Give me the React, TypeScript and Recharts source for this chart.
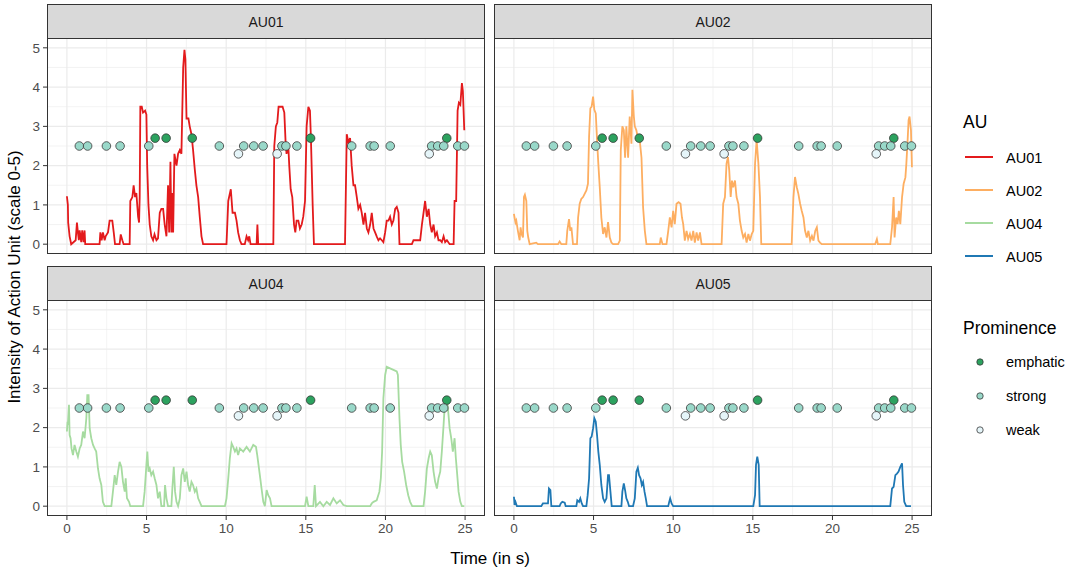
import React from "react";
import { ComposedChart, Line, Scatter, XAxis, YAxis, CartesianGrid } from "recharts";

// intensity traces, [time in s, intensity]
const au01: Array<[number, number]> = [
  [0, 1.22], [0.06, 1.0], [0.08, 0.55], [0.17, 0.2], [0.27, 0], [0.55, 0.1], [0.63, 0.55], [0.69, 0.3], [0.75, 0.1], [0.8, 0.35],
  [0.9, 0.05], [0.96, 0.35], [1.05, 0.05], [1.11, 0.35], [1.15, 0], [2.05, 0], [2.1, 0.3], [2.18, 0.1], [2.26, 0.3], [2.37, 0.1],
  [2.43, 0.2], [2.58, 0.3], [2.68, 0.6], [2.85, 0.6], [2.94, 0.3], [3.02, 0], [3.31, 0], [3.38, 0.25], [3.48, 0.1], [3.56, 0],
  [3.94, 0], [3.98, 1.1], [4.11, 1.2], [4.19, 1.5], [4.28, 1.2], [4.36, 1.3], [4.47, 0.7], [4.53, 0.55], [4.57, 1.2], [4.61, 3.5],
  [4.7, 3.5], [4.78, 3.35], [4.91, 3.4], [4.99, 3.3], [5.04, 2.0], [5.12, 1.0], [5.2, 0.5], [5.3, 0.2], [5.41, 0.1], [5.5, 0.25],
  [5.62, 0.1], [5.72, 0.15], [5.83, 0.8], [5.93, 0.9], [6.04, 0.9], [6.14, 0.5], [6.25, 0.2], [6.35, 1.5], [6.42, 0.3], [6.5, 2.1],
  [6.56, 0.3], [6.62, 1.3], [6.67, 0.3], [6.75, 2.3], [6.88, 2.0], [6.98, 2.3], [7.09, 2.4], [7.19, 2.3], [7.3, 4.5], [7.38, 4.95],
  [7.44, 4.7], [7.51, 3.2], [7.63, 3.2], [7.71, 3.0], [7.82, 2.8], [7.92, 2.4], [8.03, 1.9], [8.13, 1.5], [8.24, 1.2], [8.34, 0.7],
  [8.45, 0.2], [8.55, 0], [10.02, 0], [10.13, 1.1], [10.29, 1.4], [10.4, 0.8], [10.55, 0.8], [10.65, 0.6], [10.75, 0.3], [10.86, 0.1],
  [10.96, 0], [11.17, 0], [11.28, 0.2], [11.38, 0.1], [11.45, 0.2], [11.53, 0], [11.91, 0], [11.96, 0.5], [12.01, 0], [12.96, 0],
  [13.02, 2.5], [13.12, 3.0], [13.21, 3.1], [13.29, 3.5], [13.38, 3.5], [13.54, 3.5], [13.65, 3.35], [13.73, 2.6], [13.79, 2.3], [13.9, 2.5],
  [13.96, 2.0], [14.05, 1.4], [14.15, 1.2], [14.26, 0.5], [14.34, 0.3], [14.42, 0.6], [14.53, 0.6], [14.63, 0.4], [14.74, 0.5], [14.84, 0.7],
  [14.95, 1.1], [15.05, 3.0], [15.16, 3.5], [15.26, 3.4], [15.32, 2.7], [15.43, 1.0], [15.51, 0], [17.46, 0], [17.57, 2.8], [17.67, 2.6],
  [17.78, 2.7], [17.88, 2.0], [17.99, 1.5], [18.09, 1.5], [18.2, 1.2], [18.3, 0.9], [18.41, 1.0], [18.51, 0.8], [18.62, 0.5], [18.72, 0.8],
  [18.83, 0.4], [18.93, 0.3], [19.04, 0.5], [19.14, 0.8], [19.25, 0.4], [19.35, 0.3], [19.45, 0.2], [19.56, 0.1], [19.66, 0.15], [19.77, 0.1],
  [19.87, 0.05], [19.98, 0.3], [20.08, 0.6], [20.19, 0.6], [20.29, 0.7], [20.4, 0.5], [20.5, 0.6], [20.61, 0.9], [20.71, 0.95], [20.82, 0.8],
  [20.88, 0], [21.66, 0], [21.76, 0.1], [21.97, 0.1], [22.18, 0.1], [22.29, 0.5], [22.39, 0.8], [22.49, 1.1], [22.6, 0.7], [22.71, 0.9],
  [22.81, 0.5], [22.91, 0.3], [23.02, 0.5], [23.12, 0.2], [23.23, 0.3], [23.33, 0.1], [23.44, 0.1], [23.54, 0.05], [23.65, 0.2], [23.75, 0.05],
  [23.86, 0.1], [24.03, 0], [24.28, 0], [24.34, 1.1], [24.44, 1.1], [24.53, 3.4], [24.61, 3.6], [24.7, 3.55], [24.8, 4.1], [24.86, 3.9],
  [24.95, 2.9],
];

const au02: Array<[number, number]> = [
  [0, 0.77], [0.04, 0.68], [0.1, 0.55], [0.15, 0.6], [0.25, 0.34], [0.36, 0.1], [0.42, 0.43], [0.48, 0.26], [0.57, 0.17], [0.63, 1.2],
  [0.69, 1.26], [0.78, 1.1], [0.84, 0.34], [0.9, 0.17], [0.99, 0], [1.4, 0.04], [1.51, 0], [2.77, 0], [2.87, 0.07], [2.98, 0],
  [3.29, 0], [3.35, 0.34], [3.46, 0.64], [3.54, 0.34], [3.61, 0.43], [3.71, 0], [3.96, 0], [4.03, 0.68], [4.13, 1.03], [4.23, 1.15],
  [4.34, 1.2], [4.44, 1.28], [4.55, 1.37], [4.65, 1.54], [4.72, 2.74], [4.8, 3.46], [4.88, 3.5], [4.97, 3.76], [5.05, 3.42], [5.14, 3.33],
  [5.22, 2.65], [5.3, 2.05], [5.39, 1.45], [5.49, 0.68], [5.6, 0.26], [5.7, 0.43], [5.81, 0.17], [5.91, 0.56], [6.02, 0.17], [6.12, 0.04],
  [6.23, 0], [6.54, 0], [6.65, 0.09], [6.71, 2.4], [6.81, 3.0], [6.9, 2.9], [6.98, 2.2], [7.06, 3.0], [7.17, 2.2], [7.27, 3.25],
  [7.38, 2.56], [7.44, 3.93], [7.53, 3.25], [7.59, 3.0], [7.69, 2.9], [7.8, 2.65], [7.9, 2.65], [8.01, 2.2], [8.11, 0.94], [8.22, 0.34],
  [8.32, 0], [9.16, 0], [9.22, 0.17], [9.33, 0], [9.58, 0], [9.69, 0.34], [9.79, 0.68], [9.9, 0.43], [10.0, 0.85], [10.1, 0.51],
  [10.21, 1.03], [10.34, 1.07], [10.46, 1.03], [10.55, 0.68], [10.63, 0.51], [10.73, 0.09], [10.84, 0.34], [10.94, 0.13], [11.05, 0.26], [11.15, 0.09],
  [11.26, 0.34], [11.36, 0.04], [11.47, 0.3], [11.57, 0.09], [11.68, 0.3], [11.78, 0], [13.04, 0], [13.14, 1.03], [13.25, 1.2], [13.35, 2.05],
  [13.44, 2.22], [13.52, 1.88], [13.61, 1.2], [13.69, 1.62], [13.77, 1.45], [13.88, 1.62], [13.98, 1.2], [14.09, 1.03], [14.19, 0.6], [14.3, 0.34],
  [14.4, 0.17], [14.51, 0.26], [14.61, 0.04], [14.72, 0.26], [14.82, 0.09], [14.93, 0.26], [15.03, 0.34], [15.14, 2.05], [15.24, 2.65], [15.35, 2.05],
  [15.45, 1.2], [15.53, 0], [17.44, 0], [17.55, 1.2], [17.65, 1.71], [17.76, 1.45], [17.86, 1.28], [17.97, 1.03], [18.07, 0.85], [18.18, 0.68],
  [18.28, 0.34], [18.39, 0.17], [18.49, 0.34], [18.6, 0.09], [18.71, 0.21], [18.81, 0.09], [18.92, 0.34], [19.02, 0.43], [19.12, 0.09], [19.22, 0.04],
  [19.33, 0], [22.68, 0], [22.79, 0.13], [22.85, 0], [23.63, 0], [23.74, 0.43], [23.84, 1.2], [23.9, 0.17], [24.0, 0.68], [24.09, 0.51],
  [24.17, 0.85], [24.26, 0.51], [24.37, 1.2], [24.47, 1.54], [24.58, 1.7], [24.64, 2.05], [24.72, 2.65], [24.78, 3.16], [24.84, 3.25], [24.93, 2.9],
  [24.99, 1.96],
];

const au04: Array<[number, number]> = [
  [0, 1.9], [0.04, 2.15], [0.06, 2.07], [0.13, 2.58], [0.17, 1.81], [0.23, 1.73], [0.29, 1.47], [0.38, 1.3], [0.48, 1.56], [0.59, 1.39],
  [0.69, 1.26], [0.8, 1.47], [0.9, 1.56], [1.01, 1.9], [1.11, 1.73], [1.22, 2.24], [1.28, 2.83], [1.36, 2.83], [1.43, 1.98], [1.53, 1.73],
  [1.64, 1.56], [1.74, 1.47], [1.84, 1.39], [1.95, 0.96], [2.05, 0.71], [2.16, 0.54], [2.26, 0.11], [2.37, 0], [2.79, 0], [2.89, 0.37],
  [3.0, 0.79], [3.1, 0.54], [3.21, 0.88], [3.31, 1.13], [3.42, 1.0], [3.52, 0.62], [3.63, 0.37], [3.69, 0.71], [3.77, 0.2], [3.9, 0.11],
  [3.98, 0], [4.78, 0], [4.88, 0.37], [4.99, 1.05], [5.05, 1.39], [5.12, 0.88], [5.2, 0.96], [5.3, 0.79], [5.41, 0.88], [5.51, 0.71],
  [5.62, 0.54], [5.72, 0.2], [5.83, 0.37], [5.93, 0], [6.1, 0], [6.16, 0.54], [6.25, 0.2], [6.35, 0], [6.56, 0], [6.62, 0.45],
  [6.71, 1.0], [6.79, 0.37], [6.88, 0.11], [6.98, 0], [7.09, 0.2], [7.19, 0.79], [7.3, 0.96], [7.4, 0.62], [7.51, 0.88], [7.61, 0.54],
  [7.71, 0.37], [7.82, 0.62], [7.92, 0.54], [8.03, 0.37], [8.13, 0.45], [8.24, 0.2], [8.34, 0.11], [8.45, 0], [9.92, 0], [10.02, 0.2],
  [10.13, 0.71], [10.23, 1.22], [10.34, 1.6], [10.44, 1.51], [10.55, 1.39], [10.65, 1.47], [10.75, 1.3], [10.86, 1.47], [11.07, 1.39], [11.28, 1.51],
  [11.49, 1.39], [11.7, 1.56], [11.87, 1.51], [11.95, 1.3], [12.03, 1.05], [12.14, 0.71], [12.22, 0.45], [12.33, 0.11], [12.43, 0], [12.54, 0.41],
  [12.64, 0.28], [12.75, 0.2], [12.85, 0], [14.95, 0], [15.05, 0.24], [15.16, 0], [15.47, 0], [15.56, 0.54], [15.64, 0], [15.89, 0.11],
  [16.1, 0], [16.31, 0.11], [16.52, 0.03], [16.73, 0.2], [16.94, 0.07], [17.15, 0.15], [17.36, 0.03], [17.57, 0], [19.04, 0], [19.14, 0.07],
  [19.25, 0.11], [19.45, 0.15], [19.62, 0.37], [19.71, 0.71], [19.79, 1.39], [19.87, 2.75], [19.98, 3.34], [20.08, 3.55], [20.29, 3.51], [20.5, 3.47],
  [20.71, 3.43], [20.78, 3.34], [20.88, 2.24], [20.96, 1.56], [21.05, 1.13], [21.17, 0.88], [21.3, 0.54], [21.43, 0.28], [21.55, 0.11], [21.68, 0],
  [22.39, 0], [22.49, 0.37], [22.6, 0.96], [22.71, 1.22], [22.81, 1.39], [22.91, 1.3], [23.02, 0.88], [23.12, 0.62], [23.23, 0.45], [23.33, 0.71],
  [23.44, 0.88], [23.54, 1.39], [23.65, 2.07], [23.75, 2.75], [23.86, 2.75], [23.96, 2.32], [24.03, 1.98], [24.13, 1.73], [24.23, 1.39], [24.34, 1.73],
  [24.42, 1.22], [24.49, 0.88], [24.59, 0.37], [24.7, 0.11], [24.8, 0], [24.95, 0],
];

const au05: Array<[number, number]> = [
  [0, 0.24], [0.02, 0.15], [0.04, 0.03], [0.1, 0.11], [0.19, 0], [1.72, 0], [1.82, 0.07], [2.14, 0.07], [2.2, 0.45], [2.29, 0.41],
  [2.35, 0], [2.87, 0], [2.94, 0.07], [3.04, 0.11], [3.19, 0.09], [3.25, 0], [3.92, 0], [3.98, 0.15], [4.09, 0.11], [4.17, 0.2],
  [4.26, 0.07], [4.34, 0], [4.55, 0], [4.63, 0.28], [4.72, 0.71], [4.8, 1.73], [4.88, 1.77], [4.97, 1.98], [5.05, 2.24], [5.14, 2.15],
  [5.22, 1.81], [5.3, 1.39], [5.39, 1.05], [5.49, 0.54], [5.6, 0.2], [5.7, 0.11], [5.81, 0.2], [5.91, 0.79], [5.97, 0.79], [6.06, 0.37],
  [6.14, 0], [6.75, 0], [6.81, 0.37], [6.9, 0.58], [6.98, 0.41], [7.06, 0.2], [7.15, 0.11], [7.23, 0], [7.48, 0], [7.59, 0.2],
  [7.69, 0.88], [7.78, 0.98], [7.86, 0.79], [7.95, 0.71], [8.03, 0.54], [8.11, 0.62], [8.2, 0.37], [8.28, 0.2], [8.36, 0], [9.69, 0],
  [9.75, 0.11], [9.81, 0.2], [9.9, 0.07], [10.0, 0], [15.03, 0], [15.14, 0.28], [15.2, 1.05], [15.28, 1.26], [15.37, 1.05], [15.43, 0],
  [23.63, 0], [23.74, 0.45], [23.84, 0.49], [23.95, 0.79], [24.05, 0.83], [24.15, 0.88], [24.26, 1.0], [24.37, 1.09], [24.43, 0.54], [24.51, 0.11],
  [24.63, 0], [24.93, 0],
];

// prominence markers (times in s), drawn at a fixed height per level
const emphaticTimes = [5.54, 6.23, 7.87, 15.3, 23.85];
const strongTimes = [0.78, 1.3, 2.48, 3.34, 5.14, 9.57, 11.1, 11.73, 12.32, 13.5, 13.75, 14.44, 17.88, 19.04, 19.29, 20.3, 22.9, 23.28, 23.66, 24.54, 24.96];
const weakTimes = [10.77, 13.2, 22.75];

const X_TICKS = [0, 5, 10, 15, 20, 25];
const X_MINOR = [2.5, 7.5, 12.5, 17.5, 22.5];
const Y_TICKS = [0, 1, 2, 3, 4, 5];
const Y_MINOR = [0.5, 1.5, 2.5, 3.5, 4.5];

const PLOT_W = 438;
const PLOT_H = 216;
const STRIP_H = 34;
const FONT = "'Liberation Sans', Arial, sans-serif";

const prominence = [
  { name: "emphatic", times: emphaticTimes, level: 2.7, fill: "#2ca25f" },
  { name: "strong", times: strongTimes, level: 2.5, fill: "#99d8c9" },
  { name: "weak", times: weakTimes, level: 2.3, fill: "#e5f5f9" },
];

const panels = [
  { title: "AU01", series: au01, color: "#e31a1c", left: 47, top: 38, showX: false, showY: true },
  { title: "AU02", series: au02, color: "#fdae61", left: 494, top: 38, showX: false, showY: false },
  { title: "AU04", series: au04, color: "#a6dba0", left: 47, top: 300, showX: true, showY: true },
  { title: "AU05", series: au05, color: "#1f78b4", left: 494, top: 300, showX: true, showY: false },
];

type PanelProps = (typeof panels)[number];

function Panel({ title, series, color, left, top, showX, showY }: PanelProps) {
  const yW = showY ? 40 : 0;
  const xH = showX ? 34 : 0;
  const lineData = series.map(([t, v]) => ({ t, v }));
  return (
    <>
      <div
        style={{
          position: "absolute", left, top: top - STRIP_H, width: PLOT_W, height: STRIP_H + 1,
          boxSizing: "border-box", background: "#d9d9d9", border: "1px solid #333",
          display: "flex", alignItems: "center", justifyContent: "center",
          fontSize: 14, color: "#1a1a1a",
        }}
      >
        {title}
      </div>
      <div style={{ position: "absolute", left: left - yW, top }}>
        <ComposedChart width={PLOT_W + yW} height={PLOT_H + xH} margin={{ top: 0, right: 0, bottom: 0, left: 0 }}>
          <CartesianGrid verticalValues={X_MINOR} horizontalValues={Y_MINOR} stroke="#ebebeb" strokeWidth={0.6} />
          <CartesianGrid verticalValues={X_TICKS} horizontalValues={Y_TICKS} stroke="#ebebeb" strokeWidth={1.2} />
          <XAxis
            type="number" dataKey="t" domain={[-1.25, 26.25]} ticks={X_TICKS} allowDataOverflow hide={!showX} height={xH}
            axisLine={false} tickSize={4} tickMargin={3} tickLine={{ stroke: "#333" }}
            tick={{ fill: "#4d4d4d", fontSize: 13.5, fontFamily: FONT }}
          />
          <YAxis
            type="number" dataKey="v" domain={[-0.25, 5.25]} ticks={Y_TICKS} allowDataOverflow hide={!showY} width={yW}
            axisLine={false} tickSize={4} tickMargin={3} tickLine={{ stroke: "#333" }}
            tick={{ fill: "#4d4d4d", fontSize: 13.5, fontFamily: FONT }}
          />
          <Line data={lineData} dataKey="v" type="linear" stroke={color} strokeWidth={1.8} dot={false} isAnimationActive={false} />
          {prominence.map((p) => (
            <Scatter
              key={p.name}
              data={p.times.map((t) => ({ t, v: p.level }))}
              isAnimationActive={false}
              shape={(s: any) => <circle cx={s.cx} cy={s.cy} r={4.3} fill={p.fill} stroke="#3a3a3a" strokeWidth={0.8} />}
            />
          ))}
        </ComposedChart>
      </div>
      <div
        style={{
          position: "absolute", left, top, width: PLOT_W, height: PLOT_H,
          boxSizing: "border-box", border: "1px solid #333", pointerEvents: "none",
        }}
      />
    </>
  );
}

const legendLines = [
  { name: "AU01", color: "#e31a1c", y: 157 },
  { name: "AU02", color: "#fdae61", y: 190 },
  { name: "AU04", color: "#a6dba0", y: 223 },
  { name: "AU05", color: "#1f78b4", y: 256 },
];
const legendDotY = [362, 396, 430];

export default function App() {
  return (
    <div style={{ position: "absolute", left: 0, top: 0, width: 1084, height: 575, background: "#fff", fontFamily: FONT }}>
      {panels.map((p) => (
        <Panel key={p.title} {...p} />
      ))}
      <svg width={1084} height={575} style={{ position: "absolute", left: 0, top: 0, pointerEvents: "none" }} fontFamily={FONT}>
        <text x={490} y={558} textAnchor="middle" dominantBaseline="central" fontSize={17} fill="#000">
          Time (in s)
        </text>
        <text
          x={14} y={277} textAnchor="middle" dominantBaseline="central" fontSize={17} fill="#000"
          transform="rotate(-90 14 277)"
        >
          Intensity of Action Unit (scale 0-5)
        </text>
        <text x={963} y={122} dominantBaseline="central" fontSize={17.5} fill="#000">AU</text>
        {legendLines.map((l) => (
          <g key={l.name}>
            <line x1={965} x2={993} y1={l.y} y2={l.y} stroke={l.color} strokeWidth={2} />
            <text x={1006} y={l.y + 1} dominantBaseline="central" fontSize={14.5} fill="#000">{l.name}</text>
          </g>
        ))}
        <text x={963} y={328} dominantBaseline="central" fontSize={17.5} fill="#000">Prominence</text>
        {prominence.map((d, i) => (
          <g key={d.name}>
            <circle cx={980} cy={legendDotY[i]} r={3.2} fill={d.fill} stroke="#3a3a3a" strokeWidth={0.8} />
            <text x={1006} y={legendDotY[i]} dominantBaseline="central" fontSize={14.5} fill="#000">{d.name}</text>
          </g>
        ))}
      </svg>
    </div>
  );
}
